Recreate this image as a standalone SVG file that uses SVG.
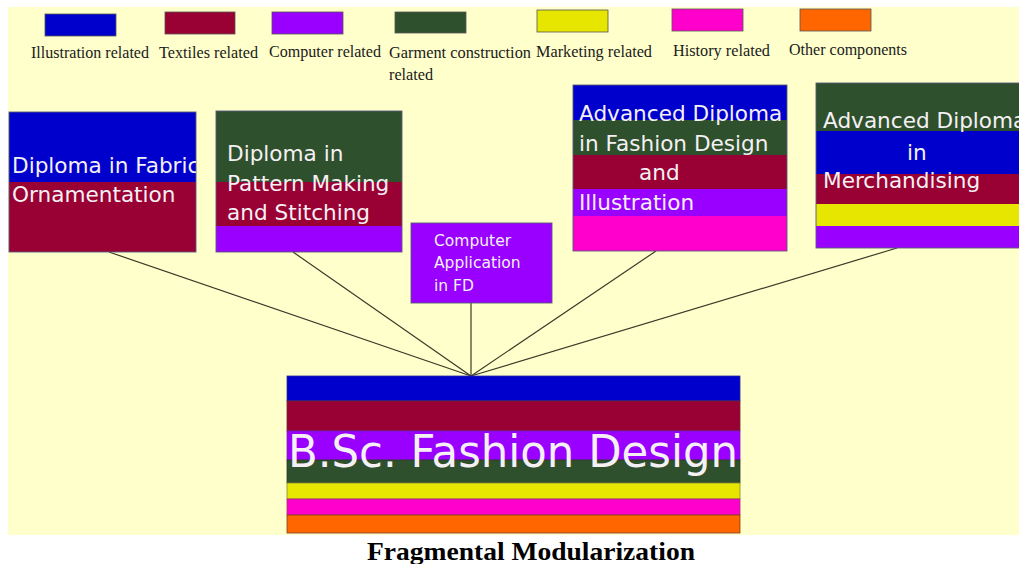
<svg xmlns="http://www.w3.org/2000/svg" width="1019" height="564" viewBox="0 0 1019 564">
<style>
.blue{fill:#0000cc}
.maroon{fill:#990033}
.purple{fill:#9900ff}
.green{fill:#2f502c}
.yellow{fill:#e6e600}
.pink{fill:#ff00cc}
.orange{fill:#ff6600}
.lgbox{stroke:#555555;stroke-width:0.8}
.lgtxt{font-family:"Liberation Serif","Times New Roman",serif;font-size:16.5px;fill:#1a1a1a}
.nt{font-family:"DejaVu Sans",Verdana,sans-serif;font-size:21.6px;fill:#f4f0f4}
.st{font-family:"DejaVu Sans",Verdana,sans-serif;font-size:15.5px;fill:#f4f0f4}
.outline{fill:none;stroke:#5a5a7a;stroke-width:0.9}
.band{stroke-width:0.8}
.conn line{stroke:#3a3a2a;stroke-width:1.2}
.cap{font-family:"Liberation Serif","Times New Roman",serif;font-size:25px;font-weight:bold;fill:#000000}
</style>
<defs>
<clipPath id="clip1"><rect x="9" y="112" width="187" height="140"/></clipPath>
</defs>
<rect x="0" y="0" width="1019" height="564" fill="#ffffff"/>
<rect x="8" y="7" width="1011" height="528" fill="#ffffcc"/>

<g id="legend">
  <g id="legend-illustration">
    <rect class="blue lgbox" x="45" y="14" width="71" height="22"/>
    <text class="lgtxt" x="31" y="58" textLength="118" lengthAdjust="spacingAndGlyphs">Illustration related</text>
  </g>
  <g id="legend-textiles">
    <rect class="maroon lgbox" x="165" y="12" width="70" height="22"/>
    <text class="lgtxt" x="159" y="58" textLength="99" lengthAdjust="spacingAndGlyphs">Textiles related</text>
  </g>
  <g id="legend-computer">
    <rect class="purple lgbox" x="272" y="12" width="71" height="22"/>
    <text class="lgtxt" x="269" y="57" textLength="112" lengthAdjust="spacingAndGlyphs">Computer related</text>
  </g>
  <g id="legend-garment">
    <rect class="green lgbox" x="395" y="12" width="71" height="21"/>
    <text class="lgtxt" x="389" y="58" textLength="142" lengthAdjust="spacingAndGlyphs">Garment construction</text>
    <text class="lgtxt" x="389" y="80" textLength="44" lengthAdjust="spacingAndGlyphs">related</text>
  </g>
  <g id="legend-marketing">
    <rect class="yellow lgbox" x="537" y="10" width="71" height="22"/>
    <text class="lgtxt" x="536" y="57" textLength="116" lengthAdjust="spacingAndGlyphs">Marketing related</text>
  </g>
  <g id="legend-history">
    <rect class="pink lgbox" x="672" y="9" width="71" height="22"/>
    <text class="lgtxt" x="673" y="56" textLength="97" lengthAdjust="spacingAndGlyphs">History related</text>
  </g>
  <g id="legend-other">
    <rect class="orange lgbox" x="800" y="9" width="71" height="22"/>
    <text class="lgtxt" x="789" y="55" textLength="118" lengthAdjust="spacingAndGlyphs">Other components</text>
  </g>
</g>

<g id="connectors" class="conn">
  <line x1="109" y1="252" x2="471" y2="376"/>
  <line x1="293" y1="252" x2="471" y2="376"/>
  <line x1="471" y1="303" x2="471" y2="376"/>
  <line x1="656" y1="251" x2="471" y2="376"/>
  <line x1="897" y1="248" x2="471" y2="376"/>
</g>

<g id="node-fabric-ornamentation">
  <rect class="blue" x="9" y="112" width="187" height="70"/>
  <rect class="maroon" x="9" y="182" width="187" height="70"/>
  <rect class="outline" x="9" y="112" width="187" height="140"/>
  <g clip-path="url(#clip1)">
    <text class="nt" x="12" y="173">Diploma in Fabric</text>
    <text class="nt" x="12" y="202">Ornamentation</text>
  </g>
</g>

<g id="node-pattern-making">
  <rect class="green" x="216" y="111" width="186" height="71"/>
  <rect class="maroon" x="216" y="182" width="186" height="44"/>
  <rect class="purple" x="216" y="226" width="186" height="26"/>
  <rect class="outline" x="216" y="111" width="186" height="141"/>
  <text class="nt" x="227" y="161">Diploma in</text>
  <text class="nt" x="227" y="191">Pattern Making</text>
  <text class="nt" x="227" y="220">and Stitching</text>
</g>

<g id="node-computer-application">
  <rect class="purple" x="411" y="223" width="141" height="80"/>
  <rect class="outline" x="411" y="223" width="141" height="80"/>
  <text class="st" x="434" y="246">Computer</text>
  <text class="st" x="434" y="268">Application</text>
  <text class="st" x="434" y="291">in FD</text>
</g>

<g id="node-adv-fashion-design">
  <rect class="blue" x="573" y="85" width="214" height="35"/>
  <rect class="green" x="573" y="120" width="214" height="35"/>
  <rect class="maroon" x="573" y="155" width="214" height="34"/>
  <rect class="purple" x="573" y="189" width="214" height="27"/>
  <rect class="pink" x="573" y="216" width="214" height="35"/>
  <rect class="outline" x="573" y="85" width="214" height="166"/>
  <text class="nt" x="579" y="121">Advanced Diploma</text>
  <text class="nt" x="579" y="151">in Fashion Design</text>
  <text class="nt" x="639" y="180">and</text>
  <text class="nt" x="579" y="210">Illustration</text>
</g>

<g id="node-adv-merchandising">
  <rect class="green" x="816" y="83" width="210" height="48"/>
  <rect class="blue" x="816" y="131" width="210" height="43"/>
  <rect class="maroon" x="816" y="174" width="210" height="30"/>
  <rect class="yellow" x="816" y="204" width="210" height="22"/>
  <rect class="purple" x="816" y="226" width="210" height="22"/>
  <rect class="outline" x="816" y="83" width="210" height="165"/>
  <text class="nt" x="823" y="128">Advanced Diploma</text>
  <text class="nt" x="907" y="160">in</text>
  <text class="nt" x="823" y="188">Merchandising</text>
</g>

<g id="node-bsc-fashion-design">
  <rect class="blue band" stroke="#2a2a99" x="287" y="376" width="453" height="25"/>
  <rect class="maroon band" stroke="#6a2a3a" x="287" y="401" width="453" height="30"/>
  <rect class="purple band" stroke="#7a20c0" x="287" y="431" width="453" height="29"/>
  <rect class="green band" stroke="#2a3a2a" x="287" y="460" width="453" height="23"/>
  <rect class="yellow band" stroke="#8a8a30" x="287" y="483" width="453" height="16"/>
  <rect class="pink band" stroke="#a03070" x="287" y="499" width="453" height="16"/>
  <rect class="orange band" stroke="#7a4020" x="287" y="515" width="453" height="18"/>
  <text class="nt" x="288" y="467" style="font-size:44px" textLength="450" lengthAdjust="spacingAndGlyphs">B.Sc. Fashion Design</text>
</g>

<text class="cap" x="367" y="560" textLength="328" lengthAdjust="spacingAndGlyphs">Fragmental Modularization</text>
</svg>
